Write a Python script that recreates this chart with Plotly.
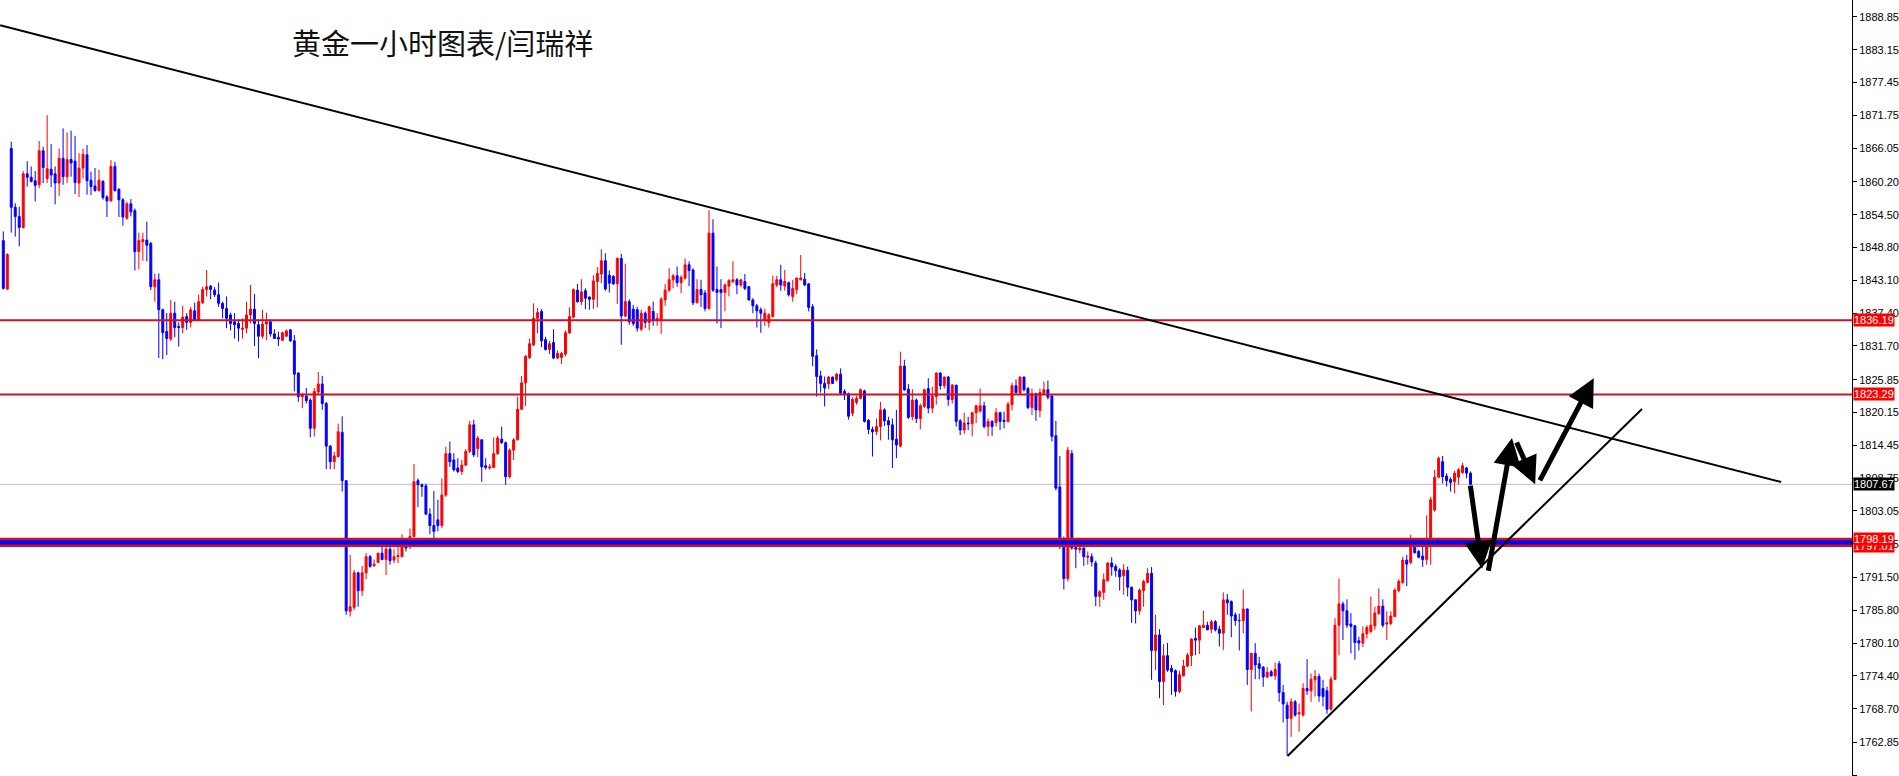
import plotly.graph_objects as go

# ---------------- data (XAUUSD 1h candles) ----------------
open_ = [
 1850.0,1841.6,1866.0,1855.8,1854.2,1852.3,1861.6,1861.0,1860.4,1859.7,  # 0
 1865.6,1860.8,1862.4,1861.6,1860.0,1864.3,1861.1,1864.1,1863.8,1860.0,  # 10
 1862.6,1864.9,1860.5,1859.5,1858.7,1860.3,1857.6,1856.9,1862.9,1858.9,  # 20
 1857.1,1853.9,1856.4,1855.2,1848.1,1849.8,1850.1,1849.5,1842.0,1843.2,  # 30
 1838.0,1834.2,1832.9,1837.4,1835.1,1834.9,1836.8,1835.8,1837.8,1836.2,  # 40
 1839.2,1841.5,1842.1,1841.4,1840.6,1839.1,1838.2,1837.1,1835.9,1835.6,  # 50
 1834.6,1834.8,1837.1,1838.1,1835.4,1833.4,1835.5,1835.9,1833.8,1833.2,  # 60
 1832.7,1833.4,1834.5,1832.6,1827.0,1822.9,1823.0,1822.3,1817.4,1823.7,  # 70
 1825.1,1821.7,1814.3,1811.6,1812.5,1816.7,1808.3,1785.6,1786.3,1792.3,  # 80
 1789.2,1792.3,1795.1,1793.5,1794.1,1795.7,1794.6,1796.4,1794.5,1795.1,  # 90
 1795.1,1797.5,1796.8,1798.6,1808.3,1807.6,1807.4,1802.5,1800.5,1801.5,  # 100
 1800.5,1805.8,1813.0,1811.9,1810.5,1809.9,1811.0,1813.4,1818.0,1813.9,  # 110
 1815.4,1810.9,1810.5,1810.6,1813.0,1815.5,1814.9,1809.0,1813.6,1815.4,  # 120
 1820.7,1825.3,1829.7,1831.9,1836.5,1837.7,1832.8,1831.1,1832.3,1829.6,  # 130
 1829.7,1830.3,1834.0,1836.7,1841.4,1839.4,1841.3,1840.2,1839.8,1842.9,  # 140
 1844.2,1846.5,1844.0,1843.8,1842.5,1846.9,1836.9,1839.4,1838.1,1838.0,  # 150
 1834.6,1837.4,1835.8,1837.7,1836.1,1836.2,1839.7,1841.4,1843.2,1843.9,  # 160
 1842.7,1843.5,1845.8,1844.9,1839.2,1841.5,1840.9,1838.2,1851.3,1841.5,  # 170
 1841.5,1841.0,1842.1,1842.9,1843.2,1842.3,1842.9,1842.0,1839.7,1838.7,  # 180
 1838.0,1836.2,1835.8,1836.8,1842.3,1843.2,1842.1,1842.7,1840.3,1841.5,  # 190
 1843.2,1843.3,1842.5,1838.5,1830.0,1826.5,1825.2,1825.1,1826.3,1825.8,  # 200
 1826.8,1823.8,1823.4,1820.0,1821.9,1822.6,1823.9,1818.8,1817.2,1816.8,  # 210
 1817.7,1820.6,1818.7,1818.0,1815.5,1814.3,1828.2,1824.2,1819.4,1822.3,  # 220
 1819.1,1821.2,1824.3,1820.9,1822.9,1827.0,1824.8,1826.3,1822.4,1824.9,  # 230
 1818.7,1817.1,1818.3,1818.2,1820.1,1820.4,1821.3,1817.7,1818.6,1818.4,  # 240
 1820.1,1818.8,1818.6,1821.5,1824.8,1823.5,1826.3,1824.3,1821.0,1823.4,  # 250
 1820.5,1823.5,1824.1,1823.0,1816.1,1807.2,1797.4,1791.3,1813.0,1796.7,  # 260
 1796.3,1796.6,1795.0,1795.1,1794.0,1788.2,1788.9,1790.9,1794.0,1793.4,  # 270
 1792.8,1791.8,1792.7,1789.8,1787.6,1785.7,1789.2,1790.6,1792.2,1778.8,  # 280
 1781.5,1773.4,1777.9,1775.7,1775.3,1771.7,1774.4,1776.1,1777.9,1780.9,  # 290
 1780.6,1782.8,1783.2,1782.5,1783.8,1782.5,1781.8,1787.6,1787.3,1785.0,  # 300
 1784.0,1784.0,1786.0,1775.5,1778.3,1776.5,1775.9,1774.2,1775.1,1774.4,  # 310
 1776.5,1771.5,1769.3,1767.0,1769.9,1767.8,1767.6,1772.2,1771.8,1773.7,  # 320
 1774.3,1772.2,1771.8,1768.6,1773.8,1783.2,1786.9,1785.7,1783.4,1783.1,  # 330
 1780.5,1780.1,1781.7,1782.1,1783.1,1785.2,1786.5,1783.4,1783.5,1784.7,  # 340
 1789.2,1790.6,1794.5,1794.1,1796.8,1796.0,1795.2,1794.6,1797.3,1803.2,  # 350
 1808.9,1811.6,1809.1,1808.5,1808.1,1808.9,1809.7,1810.5,1809.6,          # 360
]
high = [
 1851.6,1847.8,1867.2,1856.5,1855.9,1862.1,1863.8,1862.9,1862.1,1867.3,
 1866.3,1871.8,1866.8,1862.9,1866.0,1869.5,1868.8,1869.1,1868.2,1865.2,
 1866.0,1866.6,1862.0,1862.6,1862.3,1860.5,1857.9,1864.0,1863.7,1859.1,
 1857.4,1856.8,1857.2,1855.6,1851.4,1851.4,1853.3,1849.8,1844.3,1844.3,
 1838.2,1837.4,1839.7,1839.4,1835.8,1838.7,1837.4,1838.5,1839.2,1840.6,
 1842.0,1844.9,1842.3,1841.9,1842.7,1839.4,1840.3,1837.5,1837.4,1836.3,
 1836.5,1839.4,1842.3,1840.7,1836.3,1838.0,1837.5,1836.3,1834.6,1834.2,
 1834.2,1834.6,1834.6,1833.6,1827.1,1823.6,1824.4,1822.6,1824.4,1827.2,
 1826.5,1822.0,1814.5,1813.3,1818.2,1819.5,1808.4,1795.4,1792.8,1792.5,
 1793.5,1795.7,1795.4,1794.6,1795.8,1797.0,1797.1,1797.0,1796.4,1797.0,
 1799.0,1797.7,1800.0,1811.2,1808.7,1807.8,1807.8,1803.5,1806.5,1805.0,
 1808.7,1814.2,1815.1,1813.1,1812.2,1811.9,1813.8,1818.7,1818.9,1816.1,
 1815.5,1812.2,1811.2,1815.8,1816.1,1817.7,1815.1,1813.9,1815.7,1822.9,
 1826.5,1830.1,1833.0,1839.1,1838.3,1838.1,1833.3,1832.6,1834.6,1830.9,
 1830.7,1834.4,1838.4,1841.7,1842.5,1843.3,1841.7,1840.3,1844.0,1845.4,
 1848.5,1847.8,1844.8,1844.0,1847.1,1847.7,1846.0,1839.8,1838.8,1838.5,
 1838.0,1837.7,1838.7,1839.4,1837.4,1840.2,1842.5,1845.2,1844.2,1845.5,
 1844.0,1846.9,1846.4,1845.2,1843.3,1843.2,1841.4,1855.3,1853.7,1845.5,
 1843.3,1842.6,1843.3,1846.4,1843.5,1843.3,1844.2,1842.1,1840.0,1839.0,
 1838.4,1838.2,1837.4,1843.9,1843.9,1845.8,1844.9,1842.9,1843.2,1843.6,
 1847.5,1844.4,1842.6,1839.0,1831.1,1827.4,1826.4,1826.5,1826.4,1827.0,
 1827.8,1824.2,1823.6,1822.8,1823.0,1824.3,1824.1,1819.0,1817.7,1819.1,
 1822.0,1820.9,1819.4,1819.1,1820.6,1830.7,1829.3,1825.1,1824.2,1822.6,
 1821.7,1824.3,1826.1,1824.6,1827.1,1827.1,1826.4,1826.5,1825.1,1824.9,
 1819.0,1820.1,1819.4,1820.3,1821.5,1824.3,1822.0,1819.1,1818.8,1820.9,
 1820.3,1820.3,1822.0,1825.3,1825.9,1826.4,1826.4,1824.6,1824.3,1823.6,
 1824.3,1825.5,1825.7,1823.2,1818.7,1812.6,1798.6,1814.2,1813.6,1797.4,
 1798.0,1796.7,1796.0,1795.7,1794.4,1789.3,1792.2,1794.1,1795.0,1793.8,
 1793.1,1793.8,1793.4,1789.9,1787.7,1789.6,1791.1,1793.1,1793.3,1785.0,
 1782.5,1779.9,1780.1,1776.3,1775.5,1775.3,1777.2,1778.4,1780.9,1782.8,
 1783.2,1785.7,1783.8,1784.1,1784.1,1783.1,1788.9,1788.6,1787.5,1785.4,
 1785.2,1789.4,1786.1,1778.4,1780.1,1777.7,1776.1,1775.9,1775.4,1776.7,
 1777.0,1772.8,1769.9,1770.5,1770.2,1769.6,1773.1,1777.3,1774.8,1775.4,
 1774.8,1773.7,1772.5,1774.3,1784.4,1791.3,1787.3,1787.7,1785.3,1783.2,
 1781.2,1783.0,1783.2,1788.2,1786.4,1789.6,1787.7,1785.6,1785.6,1789.6,
 1791.2,1795.1,1795.4,1798.9,1797.4,1796.3,1797.0,1802.3,1805.5,1810.2,
 1812.5,1812.6,1809.6,1808.9,1810.0,1810.5,1811.4,1810.7,1809.9,
]
low = [
 1841.5,1841.4,1851.4,1850.7,1849.0,1852.1,1859.4,1860.1,1856.8,1859.1,
 1860.0,1860.0,1859.3,1856.3,1857.8,1859.7,1860.0,1861.1,1858.1,1857.6,
 1860.8,1858.0,1857.9,1858.5,1858.5,1857.1,1854.1,1856.8,1858.5,1854.1,
 1852.6,1853.6,1854.2,1844.8,1845.0,1846.5,1846.4,1841.4,1839.4,1829.6,
 1829.4,1830.1,1832.6,1833.2,1831.6,1833.9,1834.5,1834.9,1836.2,1836.1,
 1839.0,1840.3,1839.8,1840.2,1838.5,1836.5,1834.8,1834.4,1833.0,1832.5,
 1833.0,1833.9,1835.6,1831.7,1829.6,1833.0,1832.7,1833.3,1833.0,1831.7,
 1832.6,1833.3,1832.4,1823.8,1822.0,1820.9,1821.7,1815.8,1816.0,1823.2,
 1820.6,1810.3,1810.3,1810.3,1812.3,1806.4,1785.0,1784.7,1785.8,1786.4,
 1788.3,1791.2,1793.2,1793.4,1794.0,1794.5,1791.9,1793.7,1794.0,1794.0,
 1795.0,1796.0,1796.4,1798.5,1803.7,1805.5,1802.3,1799.0,1797.5,1799.5,
 1800.0,1805.5,1810.7,1809.9,1809.6,1809.3,1810.9,1813.1,1812.4,1812.4,
 1808.1,1810.2,1810.2,1810.5,1812.8,1814.7,1807.6,1808.7,1811.9,1815.3,
 1820.6,1821.3,1829.4,1831.7,1833.9,1831.5,1830.9,1830.3,1829.4,1829.4,
 1828.6,1829.9,1833.8,1836.5,1839.2,1838.8,1838.1,1838.0,1838.1,1838.4,
 1842.6,1841.3,1841.0,1842.3,1839.0,1831.9,1836.7,1835.4,1835.2,1834.2,
 1834.3,1834.8,1834.4,1835.2,1835.2,1833.8,1838.7,1841.1,1841.7,1842.0,
 1840.9,1843.2,1842.1,1838.8,1839.1,1838.5,1837.7,1838.0,1841.1,1835.6,
 1834.8,1837.7,1840.3,1842.6,1840.7,1841.9,1841.4,1839.6,1837.4,1834.9,
 1834.0,1835.2,1834.9,1836.7,1841.9,1841.3,1841.3,1840.3,1839.4,1840.7,
 1843.1,1842.1,1837.7,1828.2,1822.9,1823.6,1821.2,1824.2,1825.1,1825.5,
 1823.2,1822.3,1818.9,1819.5,1821.5,1822.4,1818.4,1816.4,1812.5,1816.2,
 1815.3,1817.8,1815.4,1810.5,1812.2,1814.1,1823.9,1819.0,1818.8,1818.3,
 1817.2,1820.9,1820.0,1820.0,1821.5,1824.1,1824.3,1821.3,1821.7,1817.7,
 1816.2,1816.4,1817.1,1816.0,1818.3,1820.1,1817.4,1816.0,1816.1,1817.7,
 1817.1,1817.4,1818.4,1820.5,1823.4,1823.2,1823.8,1820.7,1819.7,1818.7,
 1819.3,1823.2,1822.4,1815.1,1806.6,1796.4,1789.4,1790.8,1796.3,1793.1,
 1795.7,1793.5,1793.7,1793.4,1786.5,1786.4,1787.6,1790.8,1791.8,1791.6,
 1789.2,1788.5,1788.2,1783.6,1783.5,1785.0,1786.4,1790.5,1773.7,1775.4,
 1770.5,1769.3,1775.1,1771.1,1770.8,1771.4,1774.3,1775.9,1776.1,1778.0,
 1778.2,1782.7,1782.3,1781.8,1782.1,1779.5,1778.9,1785.0,1781.1,1783.1,
 1778.8,1781.8,1772.8,1768.2,1773.8,1773.8,1772.5,1774.0,1774.3,1773.7,
 1769.9,1766.3,1760.5,1763.8,1767.3,1764.7,1767.3,1771.1,1769.9,1770.8,
 1769.9,1769.1,1767.8,1768.4,1773.7,1778.0,1780.6,1782.7,1778.3,1777.2,
 1778.8,1779.4,1780.9,1781.8,1782.4,1785.0,1782.8,1780.6,1783.2,1784.6,
 1788.9,1790.4,1790.0,1793.8,1795.6,1794.8,1793.3,1793.7,1793.7,1802.9,
 1808.7,1807.8,1807.3,1806.4,1806.1,1807.6,1809.5,1808.7,1807.5,
]
close = [
 1841.7,1847.6,1855.8,1854.2,1852.3,1861.6,1861.0,1860.3,1859.6,1865.6,
 1862.7,1862.5,1861.4,1860.0,1864.3,1861.1,1864.1,1863.5,1860.1,1862.6,
 1865.0,1860.4,1859.4,1858.7,1860.5,1857.5,1856.9,1862.9,1858.7,1857.1,
 1854.1,1856.4,1855.0,1848.1,1850.0,1850.2,1849.2,1842.0,1843.2,1838.0,
 1834.0,1833.0,1837.4,1834.9,1834.9,1836.7,1835.8,1838.0,1836.2,1839.4,
 1841.5,1842.0,1841.5,1840.6,1839.1,1838.2,1836.5,1835.6,1835.4,1834.8,
 1834.8,1837.1,1838.1,1835.6,1833.4,1835.5,1835.9,1833.8,1833.0,1832.9,
 1834.0,1834.3,1832.6,1826.8,1822.9,1823.2,1822.2,1817.4,1823.8,1825.1,
 1821.7,1814.3,1811.6,1812.6,1816.8,1808.3,1785.7,1786.4,1792.3,1789.2,
 1792.3,1795.1,1793.4,1793.8,1795.7,1794.6,1796.4,1794.4,1795.1,1795.3,
 1797.5,1796.6,1798.6,1808.1,1807.6,1807.3,1802.5,1800.5,1799.5,1800.5,
 1805.8,1813.0,1811.6,1810.2,1809.9,1811.0,1813.4,1818.0,1812.8,1815.7,
 1810.7,1810.6,1810.7,1813.0,1815.7,1814.9,1809.0,1813.6,1815.4,1820.7,
 1825.3,1829.9,1832.1,1836.5,1837.5,1832.6,1831.1,1832.1,1829.6,1830.4,
 1830.4,1834.0,1836.8,1841.5,1839.4,1841.1,1840.0,1839.8,1843.0,1844.3,
 1846.5,1841.6,1842.6,1842.5,1846.9,1836.9,1839.4,1835.9,1835.6,1834.8,
 1837.4,1835.8,1838.5,1836.2,1836.5,1839.8,1841.4,1843.2,1843.9,1842.7,
 1843.6,1845.8,1844.8,1839.2,1841.5,1840.6,1838.2,1851.3,1841.4,1841.0,
 1841.0,1842.3,1843.1,1843.2,1842.3,1843.2,1841.7,1839.7,1838.7,1837.8,
 1837.4,1837.4,1837.1,1842.5,1843.2,1842.3,1842.9,1840.6,1841.7,1843.5,
 1843.5,1842.3,1838.4,1829.9,1826.4,1825.2,1824.4,1826.3,1825.2,1826.8,
 1823.5,1823.4,1819.5,1822.4,1822.6,1824.1,1818.6,1817.2,1816.8,1817.7,
 1820.6,1818.7,1818.0,1815.4,1814.5,1828.2,1824.1,1819.3,1822.3,1819.1,
 1821.3,1824.1,1820.9,1823.0,1827.0,1824.8,1826.3,1822.4,1824.9,1818.6,
 1817.1,1818.3,1818.2,1820.1,1821.3,1821.3,1817.7,1818.6,1817.7,1820.1,
 1818.6,1818.6,1821.6,1824.8,1823.6,1826.3,1824.1,1821.0,1823.4,1820.6,
 1823.6,1824.1,1822.8,1816.0,1807.0,1797.4,1791.3,1813.6,1796.6,1796.4,
 1796.6,1795.1,1795.2,1794.2,1788.2,1789.0,1791.1,1794.0,1793.3,1792.7,
 1791.6,1792.8,1789.8,1787.6,1785.7,1789.3,1790.8,1792.2,1778.8,1781.5,
 1773.4,1777.9,1775.4,1775.1,1771.7,1774.6,1776.1,1778.0,1780.8,1780.6,
 1783.1,1783.2,1782.4,1783.8,1782.4,1781.8,1787.6,1787.1,1784.8,1784.0,
 1784.0,1786.0,1775.5,1778.3,1776.3,1775.7,1774.2,1775.0,1774.4,1775.5,
 1771.5,1769.5,1767.0,1769.9,1767.6,1768.0,1772.2,1771.8,1773.8,1774.3,
 1770.9,1770.8,1768.6,1773.8,1783.2,1786.9,1785.7,1783.2,1783.0,1780.2,
 1780.1,1781.7,1782.8,1783.2,1785.3,1786.5,1783.2,1783.6,1784.8,1789.3,
 1790.8,1794.5,1793.8,1797.4,1795.8,1795.0,1794.6,1797.4,1805.0,1808.9,
 1812.2,1809.0,1808.3,1808.0,1809.6,1810.2,1810.9,1809.6,1807.67,
]
bar_index = list(range(len(close)))

# price-axis ticks (as printed by the terminal)
tick_vals = [1888.85, 1883.15, 1877.45, 1871.75, 1866.05, 1860.20, 1854.50, 1848.80,
             1843.10, 1837.40, 1831.70, 1825.85, 1820.15, 1814.45, 1808.75, 1803.05,
             1797.35, 1791.50, 1785.80, 1780.10, 1774.40, 1768.70, 1762.85, 1757.15]
tick_text = ["%.2f" % v for v in tick_vals]

# horizontal levels
level_red = [1836.19, 1823.29]
band_top, band_bottom = 1798.19, 1797.01
last_price = 1807.67

# trend lines: (bar index, price)
down_trend = [(-0.8, 1887.4), (445.9, 1808.08)]
up_trend = [(322.1, 1760.48), (411.0, 1820.76)]

# forecast arrows: (tail bar, tail price, head bar, head price)
arrows = [
    (367.9, 1807.7, 370.9, 1793.0),
    (372.4, 1792.4, 378.4, 1815.7),
    (379.4, 1815.2, 384.2, 1807.7),
    (385.2, 1808.1, 398.9, 1826.1),
]

title_text = "黄金一小时图表/闫瑞祥"

# ---------------- figure ----------------
RED = "#FF0000"
BLUE = "#0000FF"
LINE_RED = "#D01020"
AXIS_FONT = "Liberation Sans Narrow, Arial Narrow, Liberation Sans, sans-serif"

fig = go.Figure()
fig.add_trace(go.Candlestick(
    x=bar_index, open=open_, high=high, low=low, close=close,
    increasing=dict(line=dict(color=RED, width=1), fillcolor=RED),
    decreasing=dict(line=dict(color=BLUE, width=1), fillcolor=BLUE),
    whiskerwidth=0, hoverinfo="skip", showlegend=False,
))

shapes = []
shapes.append(dict(type="line", xref="paper", x0=0, x1=1, yref="y", y0=last_price, y1=last_price,
                   line=dict(color="#C0C0C0", width=1), layer="below"))
for lv in level_red:
    shapes.append(dict(type="line", xref="paper", x0=0, x1=1, yref="y", y0=lv, y1=lv,
                       line=dict(color=LINE_RED, width=2)))
shapes.append(dict(type="rect", xref="paper", x0=0, x1=1, yref="y", y0=band_bottom, y1=band_top,
                   fillcolor=BLUE, line=dict(width=0)))
for lv in (band_top, band_bottom):
    shapes.append(dict(type="line", xref="paper", x0=0, x1=1, yref="y", y0=lv, y1=lv,
                       line=dict(color=LINE_RED, width=2.5)))
for (p0, p1) in (down_trend, up_trend):
    shapes.append(dict(type="line", xref="x", yref="y", x0=p0[0], y0=p0[1], x1=p1[0], y1=p1[1],
                       line=dict(color="black", width=2)))

annotations = []
for (tx, ty, hx, hy) in arrows:
    annotations.append(dict(x=hx, y=hy, ax=tx, ay=ty, xref="x", yref="y", axref="x", ayref="y",
                            text="", showarrow=True, arrowhead=2, arrowsize=1.1, arrowwidth=5,
                            arrowcolor="black"))
# axis price tags (later ones drawn on top)
for lv, bg in ((level_red[0], RED), (level_red[1], RED), (band_bottom, RED), (band_top, RED),
               (last_price, "black")):
    annotations.append(dict(x=1, xref="paper", xanchor="left", xshift=1, y=lv, yref="y",
                            yanchor="middle", text="%.2f" % lv, showarrow=False, bgcolor=bg,
                            borderpad=0, font=dict(color="white", size=11, family=AXIS_FONT)))
annotations.append(dict(x=291 / 1858, y=1 - 42 / 776, xref="paper", yref="paper", xanchor="left",
                        yanchor="middle", text=title_text, showarrow=False,
                        font=dict(family="Noto Sans CJK SC", size=29, color="#111111")))

fig.update_layout(
    width=1899, height=776,
    margin=dict(l=0, r=41, t=0, b=0),
    paper_bgcolor="white", plot_bgcolor="white",
    showlegend=False,
    shapes=shapes, annotations=annotations,
    xaxis=dict(range=[-0.825, 463.675], visible=False, rangeslider=dict(visible=False),
               showgrid=False, zeroline=False),
    yaxis=dict(range=[1757.0, 1891.8], side="right", showgrid=False, zeroline=False,
               showline=True, linecolor="black", linewidth=1, ticks="outside", ticklen=4,
               tickcolor="black", tickvals=tick_vals, ticktext=tick_text,
               tickfont=dict(family=AXIS_FONT, size=11, color="black")),
)

fig.write_html("out.html", config={"displayModeBar": False},
               post_script="document.body.style.margin='0px';")
